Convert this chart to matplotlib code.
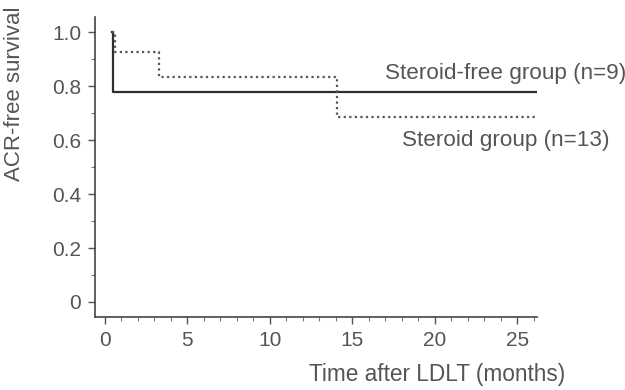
import matplotlib
matplotlib.use("Agg")
import matplotlib.pyplot as plt
from matplotlib.ticker import MultipleLocator

plt.rcParams['font.family'] = ['Liberation Sans', 'DejaVu Sans']

# Kaplan-Meier step curves (months, survival)
free_t = [0.45, 0.5, 26.2]
free_s = [1.0, 0.78, 0.78]
ster_t = [0.45, 0.6, 3.3, 14.1, 26.2]
ster_s = [1.0, 0.925, 0.835, 0.685, 0.685]

x_ticks = [0, 5, 10, 15, 20, 25]
y_ticks = [0, 0.2, 0.4, 0.6, 0.8, 1.0]
y_labels = ['0', '0.2', '0.4', '0.6', '0.8', '1.0']

txt = '#555555'
fig = plt.figure(figsize=(6.25, 3.9), dpi=100)
ax = fig.add_axes([0.152, 0.187, 0.707, 0.769])

ax.plot(free_t, free_s, drawstyle='steps-post', color='#2e2e2e', lw=1.6)
ax.plot(ster_t, ster_s, drawstyle='steps-post', color='#555555', lw=1.6,
        linestyle=(0, (1, 1.5)))

ax.set_xlim(-0.6, 26.2)
ax.set_ylim(-0.056, 1.056)
ax.set_xticks(x_ticks)
ax.set_yticks(y_ticks)
ax.set_yticklabels(y_labels)
ax.xaxis.set_minor_locator(MultipleLocator(1))
ax.yaxis.set_minor_locator(MultipleLocator(0.1))

for s in ['top', 'right']:
    ax.spines[s].set_visible(False)
for s in ['left', 'bottom']:
    ax.spines[s].set_color('#444444')
    ax.spines[s].set_linewidth(1.2)

ax.tick_params(which='major', length=5, width=1, color='#555555',
               labelsize=15, labelcolor=txt, pad=5)
ax.tick_params(which='minor', length=3, width=0.8, color='#777777')

ax.text(17.0, 0.848, 'Steroid-free group (n=9)', fontsize=16.2, color=txt,
        va='center', ha='left', clip_on=False)
ax.text(18.0, 0.60, 'Steroid group (n=13)', fontsize=16.2, color=txt,
        va='center', ha='left', clip_on=False)

fig.text(15 / 625, 1 - 94 / 390, 'ACR-free survival', rotation=90,
         fontsize=16, color=txt, ha='center', va='center')
fig.text(565 / 625, 1 - 375 / 390, 'Time after LDLT (months)',
         fontsize=16.3, color=txt, ha='right', va='center')

fig.savefig('out.png', dpi=100)
